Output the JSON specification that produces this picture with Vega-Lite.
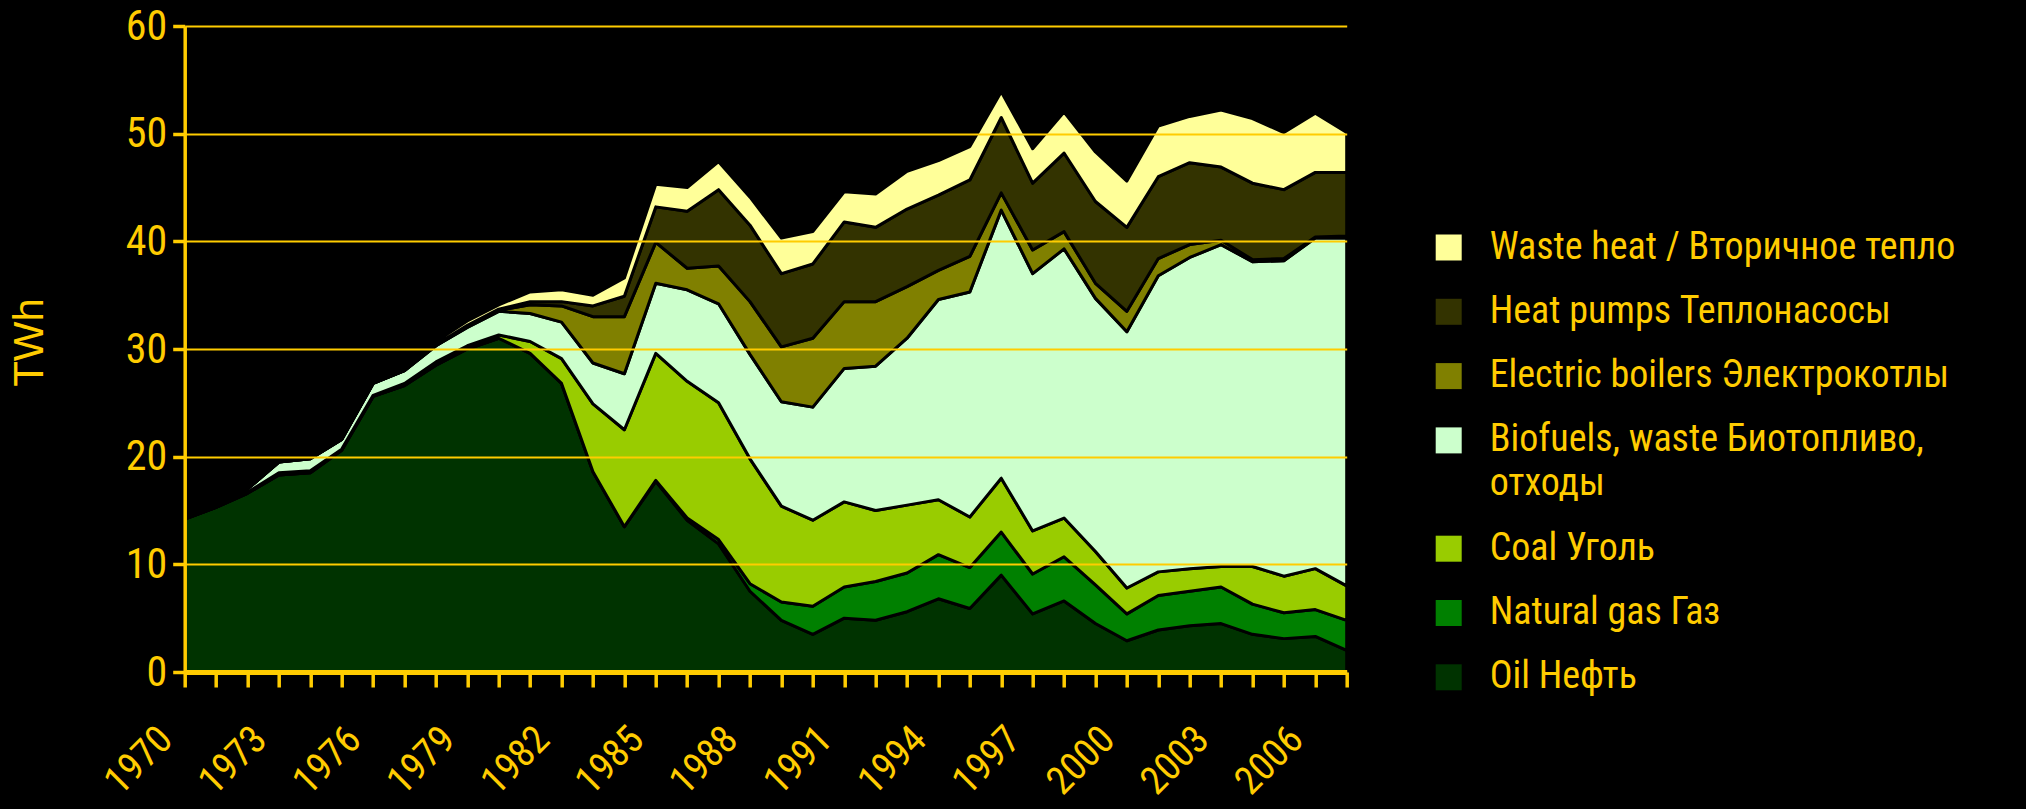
{
  "$schema": "https://vega.github.io/schema/vega-lite/v6.json",
  "width": 1162,
  "height": 646,
  "autosize": {"type": "none"},
  "padding": {"left": 184.7, "top": 26, "right": 679.3, "bottom": 137},
  "background": "#000000",
  "config": {
    "view": {"stroke": null},
    "font": "Liberation Sans Narrow, Arial Narrow, Roboto Condensed, Liberation Sans",
    "style": {"guide-label": {"lineHeight": 44}}
  },
  "data": {"values": [
    {"year": 1970, "oil": 14.2, "gas": 0, "coal": 0, "bio": 0.3, "elec": 0, "hp": 0, "waste": 0},
    {"year": 1971, "oil": 15.3, "gas": 0, "coal": 0, "bio": 0.2, "elec": 0, "hp": 0, "waste": 0},
    {"year": 1972, "oil": 16.6, "gas": 0, "coal": 0.1, "bio": 0.3, "elec": 0, "hp": 0, "waste": 0},
    {"year": 1973, "oil": 18.3, "gas": 0, "coal": 0.2, "bio": 1.0, "elec": 0, "hp": 0, "waste": 0.1},
    {"year": 1974, "oil": 18.5, "gas": 0, "coal": 0.2, "bio": 1.1, "elec": 0, "hp": 0, "waste": 0.1},
    {"year": 1975, "oil": 20.6, "gas": 0, "coal": 0.1, "bio": 0.9, "elec": 0, "hp": 0, "waste": 0.1},
    {"year": 1976, "oil": 25.6, "gas": 0, "coal": 0.1, "bio": 1.1, "elec": 0, "hp": 0, "waste": 0.1},
    {"year": 1977, "oil": 26.6, "gas": 0, "coal": 0.2, "bio": 1.2, "elec": 0, "hp": 0, "waste": 0.1},
    {"year": 1978, "oil": 28.5, "gas": 0, "coal": 0.3, "bio": 1.5, "elec": 0, "hp": 0.1, "waste": 0.3},
    {"year": 1979, "oil": 30.0, "gas": 0, "coal": 0.3, "bio": 1.7, "elec": 0.1, "hp": 0.1, "waste": 0.4},
    {"year": 1980, "oil": 31.0, "gas": 0, "coal": 0.3, "bio": 2.2, "elec": 0.1, "hp": 0.1, "waste": 0.4},
    {"year": 1981, "oil": 29.6, "gas": 0, "coal": 1.1, "bio": 2.6, "elec": 0.8, "hp": 0.3, "waste": 0.9},
    {"year": 1982, "oil": 26.8, "gas": 0, "coal": 2.3, "bio": 3.4, "elec": 1.5, "hp": 0.4, "waste": 1.1},
    {"year": 1983, "oil": 18.6, "gas": 0, "coal": 6.3, "bio": 3.8, "elec": 4.3, "hp": 1.0, "waste": 1.0},
    {"year": 1984, "oil": 13.5, "gas": 0, "coal": 9.0, "bio": 5.2, "elec": 5.3, "hp": 1.9, "waste": 1.7},
    {"year": 1985, "oil": 17.7, "gas": 0.1, "coal": 11.8, "bio": 6.5, "elec": 3.8, "hp": 3.3, "waste": 2.1},
    {"year": 1986, "oil": 14.1, "gas": 0.2, "coal": 12.7, "bio": 8.5, "elec": 2.0, "hp": 5.3, "waste": 2.2},
    {"year": 1987, "oil": 11.9, "gas": 0.4, "coal": 12.7, "bio": 9.2, "elec": 3.5, "hp": 7.1, "waste": 2.6},
    {"year": 1988, "oil": 7.5, "gas": 0.7, "coal": 11.6, "bio": 9.7, "elec": 4.9, "hp": 7.1, "waste": 2.6},
    {"year": 1989, "oil": 4.8, "gas": 1.7, "coal": 8.9, "bio": 9.7, "elec": 5.1, "hp": 6.8, "waste": 3.3},
    {"year": 1990, "oil": 3.5, "gas": 2.6, "coal": 8.0, "bio": 10.5, "elec": 6.4, "hp": 6.9, "waste": 3.0},
    {"year": 1991, "oil": 5.0, "gas": 2.9, "coal": 7.9, "bio": 12.4, "elec": 6.2, "hp": 7.4, "waste": 2.8},
    {"year": 1992, "oil": 4.8, "gas": 3.6, "coal": 6.6, "bio": 13.4, "elec": 6.0, "hp": 6.9, "waste": 3.1},
    {"year": 1993, "oil": 5.6, "gas": 3.6, "coal": 6.3, "bio": 15.5, "elec": 4.8, "hp": 7.2, "waste": 3.5},
    {"year": 1994, "oil": 6.8, "gas": 4.1, "coal": 5.1, "bio": 18.6, "elec": 2.7, "hp": 7.0, "waste": 3.2},
    {"year": 1995, "oil": 5.9, "gas": 3.8, "coal": 4.7, "bio": 20.9, "elec": 3.3, "hp": 7.1, "waste": 3.1},
    {"year": 1996, "oil": 9.0, "gas": 4.0, "coal": 5.0, "bio": 24.9, "elec": 1.6, "hp": 7.0, "waste": 2.4},
    {"year": 1997, "oil": 5.4, "gas": 3.7, "coal": 4.0, "bio": 23.9, "elec": 2.2, "hp": 6.2, "waste": 3.2},
    {"year": 1998, "oil": 6.6, "gas": 4.1, "coal": 3.6, "bio": 25.0, "elec": 1.6, "hp": 7.3, "waste": 3.8},
    {"year": 1999, "oil": 4.5, "gas": 3.6, "coal": 3.1, "bio": 23.5, "elec": 1.4, "hp": 7.6, "waste": 4.6},
    {"year": 2000, "oil": 2.9, "gas": 2.5, "coal": 2.4, "bio": 23.8, "elec": 1.9, "hp": 7.8, "waste": 4.3},
    {"year": 2001, "oil": 3.9, "gas": 3.2, "coal": 2.2, "bio": 27.5, "elec": 1.6, "hp": 7.6, "waste": 4.7},
    {"year": 2002, "oil": 4.3, "gas": 3.2, "coal": 2.1, "bio": 28.9, "elec": 1.2, "hp": 7.6, "waste": 4.3},
    {"year": 2003, "oil": 4.5, "gas": 3.4, "coal": 1.9, "bio": 29.9, "elec": 0.4, "hp": 6.8, "waste": 5.3},
    {"year": 2004, "oil": 3.5, "gas": 2.8, "coal": 3.5, "bio": 28.3, "elec": 0.2, "hp": 7.1, "waste": 6.0},
    {"year": 2005, "oil": 3.1, "gas": 2.4, "coal": 3.4, "bio": 29.3, "elec": 0.2, "hp": 6.4, "waste": 5.3},
    {"year": 2006, "oil": 3.3, "gas": 2.5, "coal": 3.8, "bio": 30.7, "elec": 0.1, "hp": 6.0, "waste": 5.5},
    {"year": 2007, "oil": 2.0, "gas": 2.8, "coal": 3.2, "bio": 32.3, "elec": 0.2, "hp": 5.9, "waste": 3.7}
  ]},
  "transform": [
    {"fold": ["oil", "gas", "coal", "bio", "elec", "hp", "waste"], "as": ["source", "value"]},
    {"calculate": "indexof(['oil','gas','coal','bio','elec','hp','waste'], datum.source)", "as": "ord"}
  ],
  "mark": {"type": "area", "stroke": "#000000", "strokeWidth": 3, "strokeJoin": "round", "fillOpacity": 1},
  "encoding": {
    "x": {
      "field": "year", "type": "quantitative",
      "scale": {"domain": [1970, 2007], "nice": false, "zero": false},
      "axis": {
        "title": null,
        "values": [1970,1971,1972,1973,1974,1975,1976,1977,1978,1979,1980,1981,1982,1983,1984,1985,1986,1987,1988,1989,1990,1991,1992,1993,1994,1995,1996,1997,1998,1999,2000,2001,2002,2003,2004,2005,2006,2007],
        "labelExpr": "(datum.value - 1970) % 3 == 0 ? '' + datum.value : ''",
        "labelAngle": -45,
        "labelAlign": "right",
        "labelBaseline": "middle",
        "labelPadding": 46,
        "labelOffset": -19,
        "labelColor": "#FFCC00",
        "labelFontSize": 39,
        "labelOverlap": false,
        "labelBound": false,
        "labelFlush": false,
        "tickColor": "#FFCC00",
        "tickSize": 15,
        "tickWidth": 3.5,
        "domainColor": "#FFCC00",
        "domainWidth": 5,
        "grid": false,
        "zindex": 1
      }
    },
    "y": {
      "field": "value", "type": "quantitative", "stack": "zero",
      "scale": {"domain": [0, 60], "nice": false},
      "axis": {
        "title": "TWh",
        "titleColor": "#FFCC00",
        "titleFont": "Liberation Sans",
        "titleFontSize": 42,
        "titleFontWeight": "normal",
        "titleAngle": -90,
        "titleAlign": "center",
        "titleBaseline": "middle",
        "titleX": -155,
        "titleY": 316,
        "values": [0, 10, 20, 30, 40, 50, 60],
        "labelColor": "#FFCC00",
        "labelFontSize": 42,
        "labelPadding": 6,
        "tickColor": "#FFCC00",
        "tickSize": 12,
        "tickWidth": 3.5,
        "domainColor": "#FFCC00",
        "domainWidth": 3.5,
        "grid": true,
        "gridColor": "#FFCC00",
        "gridWidth": 2,
        "zindex": 1
      }
    },
    "color": {
      "field": "source", "type": "nominal",
      "scale": {
        "domain": ["waste", "hp", "elec", "bio", "coal", "gas", "oil"],
        "range": ["#FFFF99", "#333300", "#808000", "#CCFFCC", "#99CC00", "#008000", "#003300"]
      },
      "legend": {
        "orient": "none",
        "legendX": 1245,
        "legendY": 202.5,
        "title": null,
        "symbolType": "square",
        "symbolSize": 676,
        "symbolStrokeWidth": 0,
        "labelColor": "#FFCC00",
        "labelFontSize": 38,
        "labelOffset": 22,
        "labelLimit": 1000,
        "rowPadding": 26.3,
        "labelExpr": "datum.value == 'waste' ? 'Waste heat / Вторичное тепло' : datum.value == 'hp' ? 'Heat pumps Теплонасосы' : datum.value == 'elec' ? 'Electric boilers Электрокотлы' : datum.value == 'bio' ? ['Biofuels, waste Биотопливо,', 'отходы'] : datum.value == 'coal' ? 'Coal Уголь' : datum.value == 'gas' ? 'Natural gas Газ' : 'Oil Нефть'",
        "encode": {
          "symbols": {"fill": {"value": {"expr": "datum.value === 'gas' ? '#339966' : scale('color', datum.value)"}}},
          "labels": {"lineHeight": {"value": 44}}
        }
      }
    },
    "order": {"field": "ord", "type": "quantitative", "sort": "ascending"}
  }
}
